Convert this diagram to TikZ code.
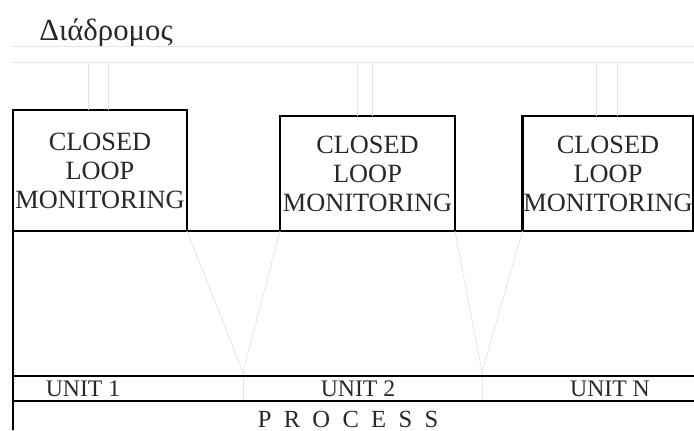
\documentclass[tikz,border=0pt]{standalone}
\usepackage{fontspec}
\setmainfont{Liberation Serif}
\definecolor{faint}{RGB}{228, 228, 228}
\definecolor{ink}{RGB}{40, 40, 40}
\usetikzlibrary{positioning}

\begin{document}
\begin{tikzpicture}[x=0.02cm, y=-0.02cm,
    monbox/.style={draw, line width=1.4pt, inner sep=0pt, outer sep=0pt, align=center, text=ink, font=\fontsize{15}{16.5}\selectfont},
    unitlbl/.style={inner sep=0pt, text=ink, font=\fontsize{13.5}{13.5}\selectfont}]
    \useasboundingbox (0,0) rectangle (694,430);
    % title and bus
    \node[font=\fontsize{17.5}{17.5}\selectfont, text=ink] (title) at (106,33) {Διάδρομος};
    \draw[faint] (12,46) -- (694,46);
    \draw[faint] (12,62) -- (694,62);
    % monitoring boxes
    \node[monbox, minimum width=3.48cm, minimum height=2.42cm] (mon1) at (100,170.5) {CLOSED\\LOOP\\MONITORING};
    \node[monbox, minimum width=3.5cm, minimum height=2.3cm] (mon2) at (367.5,173.5) {CLOSED\\LOOP\\MONITORING};
    \node[monbox, minimum width=3.42cm, minimum height=2.3cm] (monN) at (608,173.5) {CLOSED\\LOOP\\MONITORING};
    \foreach \b/\xa/\xb in {mon1/88/108, mon2/357/372, monN/596/617} {
        \draw[faint] (\xa,62) -- (\b.north -| {(\xa,0)});
        \draw[faint] (\xb,62) -- (\b.north -| {(\xb,0)});
    }
    % line under boxes
    \draw[line width=0.9pt] (mon1.south east) -- (mon2.south west);
    \draw[line width=0.9pt] (mon2.south east) -- (monN.south west);
    \coordinate (corner) at (13,430);
    \draw[line width=1pt] (mon1.south west) -- (corner);
    % junctions
    \coordinate (j1) at (243,372);
    \coordinate (j2) at (482,372);
    \draw[faint] (mon1.south east) -- (j1) -- (mon2.south west);
    \draw[faint] (mon2.south east) -- (j2) -- (monN.south west);
    \draw[faint] (j1) -- (243,400);
    \draw[faint] (j2) -- (482,400);
    % unit bar
    \draw[line width=1.6pt] (13,376) -- (694,376);
    \draw[line width=1.6pt] (13,401) -- (694,401);
    \node[unitlbl] (u1) at (83,388.5) {UNIT 1};
    \node[unitlbl] (u2) at (358,388.5) {UNIT 2};
    \node[unitlbl] (uN) at (610,388.5) {UNIT N};
    \node[font=\fontsize{14}{14}\selectfont\addfontfeature{LetterSpace=50}, text=ink, inner sep=0pt] (proc) at (348,419) {PROCESS};
\end{tikzpicture}
\end{document}
